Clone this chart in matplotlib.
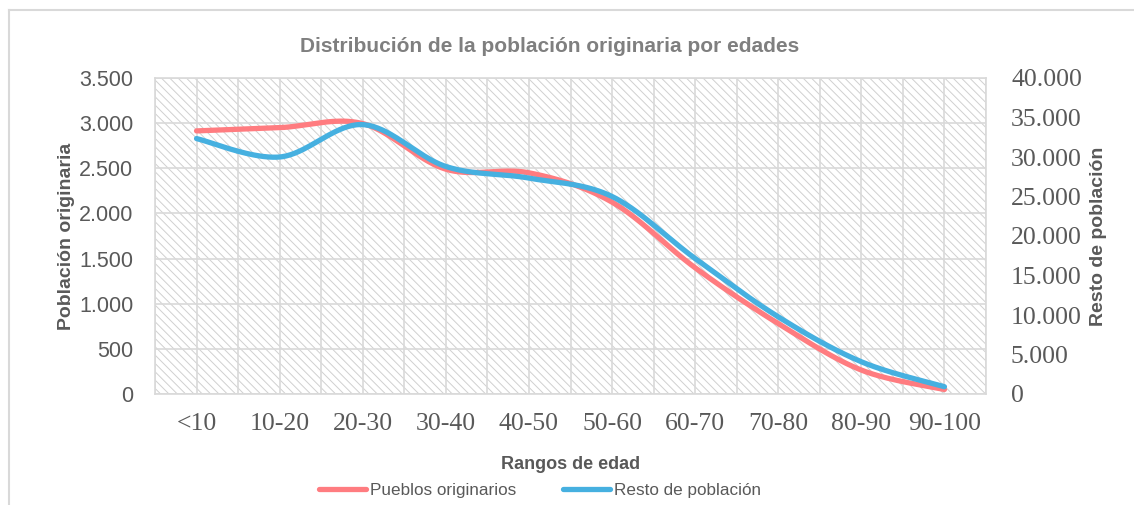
import numpy as np
import matplotlib
matplotlib.use('Agg')
from matplotlib import pyplot as plt
from matplotlib.patches import Rectangle
from matplotlib.lines import Line2D
from matplotlib.ticker import FuncFormatter

# datos
rangos = ['<10', '10-20', '20-30', '30-40', '40-50', '50-60', '60-70', '70-80', '80-90', '90-100']
pueblos = [2914, 2950, 2995, 2490, 2450, 2125, 1398, 780, 265, 50]
resto = [32330, 30000, 34100, 28800, 27330, 25000, 17150, 9770, 4080, 920]

rojo = '#FF7C80'
azul = '#46B0E0'
gris = '#595959'
sans = ['Liberation Sans Narrow', 'Liberation Sans', 'DejaVu Sans']
serif = ['Liberation Serif', 'DejaVu Serif']


def suavizar(y, n=40):
    # curva tipo Excel (Catmull-Rom con bezier)
    y = np.asarray(y, dtype=float)
    x = np.arange(len(y), dtype=float)
    xs, ys = [], []
    for i in range(len(y) - 1):
        p0 = (x[max(i - 1, 0)], y[max(i - 1, 0)])
        p1 = (x[i], y[i])
        p2 = (x[i + 1], y[i + 1])
        p3 = (x[min(i + 2, len(y) - 1)], y[min(i + 2, len(y) - 1)])
        c1 = (p1[0] + (p2[0] - p0[0]) / 6, p1[1] + (p2[1] - p0[1]) / 6)
        c2 = (p2[0] - (p3[0] - p1[0]) / 6, p2[1] - (p3[1] - p1[1]) / 6)
        t = np.linspace(0, 1, n)
        for k in range(2):
            pts = [p1[k], c1[k], c2[k], p2[k]]
            v = ((1 - t) ** 3 * pts[0] + 3 * (1 - t) ** 2 * t * pts[1]
                 + 3 * (1 - t) * t ** 2 * pts[2] + t ** 3 * pts[3])
            (xs if k == 0 else ys).append(v)
    return np.concatenate(xs), np.concatenate(ys)


def miles(v, p):
    return f'{int(v):,}'.replace(',', '.')


plt.rcParams['hatch.linewidth'] = 0.7

fig = plt.figure(figsize=(11.34, 5.05), dpi=100)
fig.add_artist(Line2D([9 / 1134, 1], [1 - 10 / 505, 1 - 10 / 505], color='#D9D9D9', lw=1.5))
fig.add_artist(Line2D([9 / 1134, 9 / 1134], [0, 1 - 10 / 505], color='#D9D9D9', lw=1.5))

ax = fig.add_axes([155 / 1134, 111 / 505, 831 / 1134, 316 / 505])
ax.add_patch(Rectangle((0, 0), 1, 1, transform=ax.transAxes, facecolor='white',
                       edgecolor='#D0D0D0', hatch='\\\\\\\\', lw=0, zorder=0))
ax.patch.set_visible(False)

x = np.arange(len(rangos))
xs, ys = suavizar(pueblos)
ax.plot(xs, ys, color=rojo, lw=3.8, solid_capstyle='round', zorder=3)
ax.set_xlim(-0.5, len(rangos) - 0.5)
ax.set_ylim(0, 3500)
ax.set_yticks(np.arange(0, 3501, 500))
ax.yaxis.set_major_formatter(FuncFormatter(miles))
ax.set_xticks(x)
ax.set_xticklabels(rangos)
ax.set_xticks(np.arange(-0.5, len(rangos), 1), minor=True)
ax.grid(True, which='both', color='#D9D9D9', lw=1.2, zorder=1)
ax.set_axisbelow(True)
ax.tick_params(which='both', length=0)
ax.tick_params(axis='y', pad=15.5, labelsize=15.5, colors=gris)
ax.tick_params(axis='x', pad=14, labelsize=18.5, colors=gris)
for t in ax.get_yticklabels():
    t.set_family(sans)
for t in ax.get_xticklabels():
    t.set_family(serif)
for s in ax.spines.values():
    s.set_color('#D9D9D9')
    s.set_linewidth(1.2)
ax.set_ylabel('Población originaria', family=sans, fontsize=14, fontweight='bold',
              color=gris, labelpad=3)
ax.set_xlabel('Rangos de edad', family=sans, fontsize=13, fontweight='bold',
              color=gris, labelpad=15)

ax2 = ax.twinx()
xs2, ys2 = suavizar(resto)
ax2.plot(xs2, ys2, color=azul, lw=3.8, solid_capstyle='round', zorder=3)
ax2.set_ylim(0, 40000)
ax2.set_yticks(np.arange(0, 40001, 5000))
ax2.yaxis.set_major_formatter(FuncFormatter(miles))
ax2.tick_params(length=0, pad=18, labelsize=18.5, colors=gris)
for t in ax2.get_yticklabels():
    t.set_family(serif)
for s in ax2.spines.values():
    s.set_visible(False)
ax2.set_ylabel('Resto de población', family=sans, fontsize=14, fontweight='bold',
               color=gris, labelpad=6)

fig.text(550 / 1134, 1 - 47 / 505, 'Distribución de la población originaria por edades',
         ha='center', va='center', family=sans, fontsize=15, fontweight='bold', color='#7F7F7F')

h1 = Line2D([], [], color=rojo, lw=3.8, solid_capstyle='round')
h2 = Line2D([], [], color=azul, lw=3.8, solid_capstyle='round')
fig.legend([h1, h2], ['Pueblos originarios', 'Resto de población'], loc='center',
           bbox_to_anchor=(540 / 1134, 1 - 490 / 505), ncol=2, frameon=False,
           prop={'family': sans, 'size': 12.3}, labelcolor=gris, handlelength=2.75,
           handletextpad=0.25, columnspacing=2.7, borderpad=0)

plt.savefig('out.png', dpi=100)
